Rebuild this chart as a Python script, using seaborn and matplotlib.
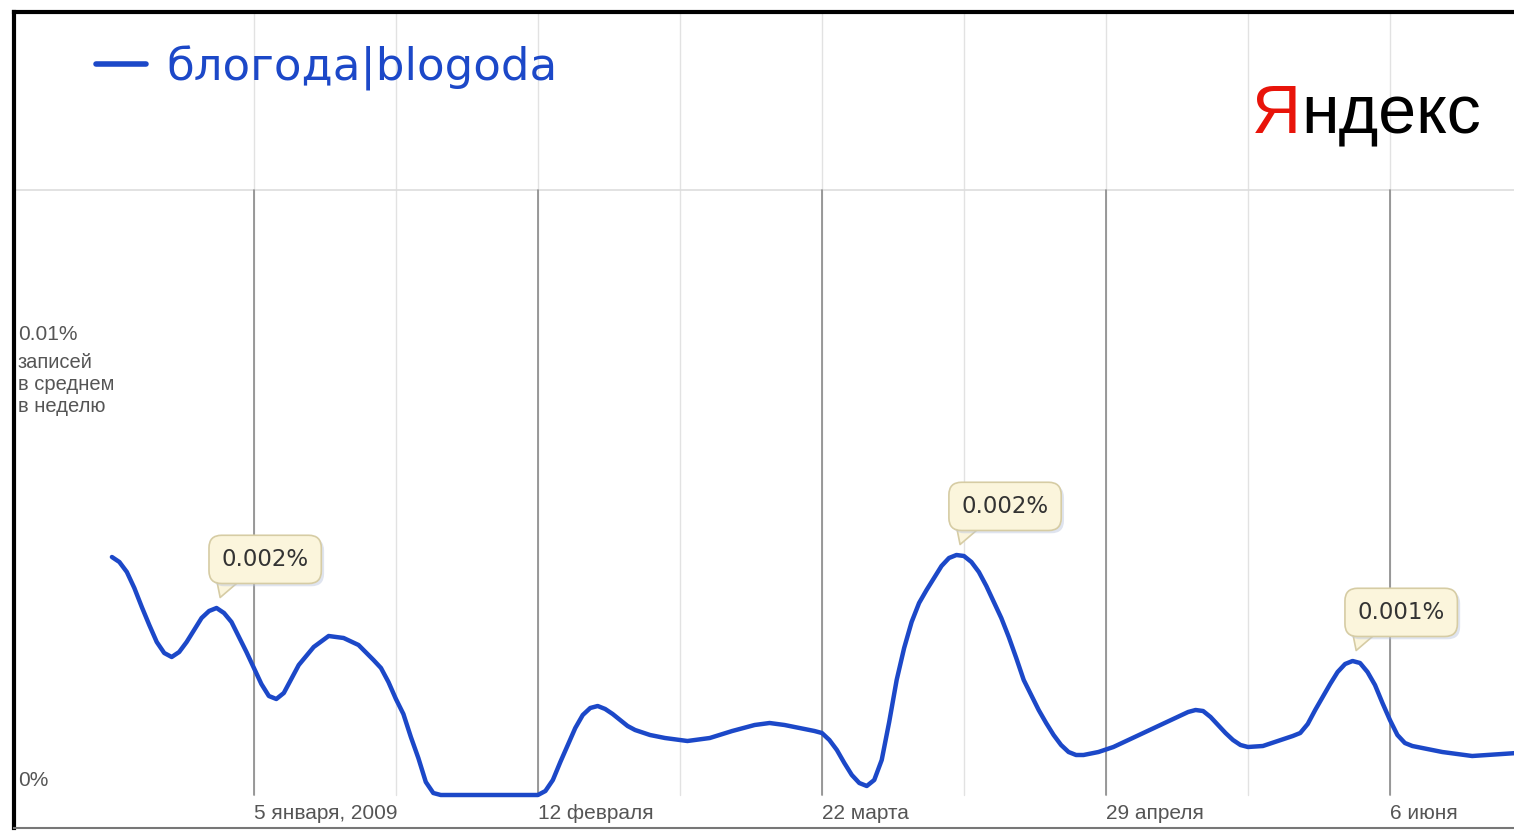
import matplotlib
matplotlib.use('Agg')
import matplotlib.pyplot as plt
import matplotlib.dates as mdates
import matplotlib.patheffects as pe
import pandas as pd
import seaborn as sns

# День отсчитывается от 5 января 2009.
start_date = '2009-01-05'
day_offsets = [-19, -18, -17, -16, -15, -14, -13, -12, -11, -10, -9, -8,
               -7, -6, -5, -4, -3, -2, -1, 0, 1, 2, 3, 4, 5, 6, 8, 10, 12,
               14, 16, 17, 18, 19, 20, 21, 22, 23, 24, 25,
               38, 39, 40, 41, 42, 43, 44, 45, 46, 47, 48, 49, 50, 51, 53,
               55, 58, 61, 64, 67, 69, 71, 73, 75, 76, 77, 78, 79, 80, 81,
               82, 83, 84, 85, 86, 87, 88, 89, 90, 91, 92, 93, 94, 95, 96,
               97, 98, 99, 100, 101, 102, 103, 104, 105, 106, 107, 108, 109,
               110, 111, 113, 115, 117, 119, 121, 123, 125, 126, 127, 128,
               129, 130, 131, 132, 133, 135, 137, 139, 140, 141, 142, 143,
               144, 145, 146, 147, 148, 149, 150, 151, 152, 153, 154, 155,
               157, 159, 161, 163, 165, 167, 169]
values = [0.00238, 0.00233, 0.00223, 0.00207, 0.00188, 0.00170, 0.00153,
          0.00142, 0.00138, 0.00143, 0.00153, 0.00165,
          0.00177, 0.00184, 0.00187, 0.00182, 0.00173, 0.00158, 0.00143,
          0.00127, 0.00111, 0.00099, 0.00096, 0.00102, 0.00116, 0.00130,
          0.00148, 0.00159, 0.00157,
          0.00150, 0.00135, 0.00127, 0.00113, 0.00096, 0.00081, 0.00058,
          0.00037, 0.00013, 0.00002, 0.0,
          0.0, 0.00004, 0.00015, 0.00033, 0.00050, 0.00067, 0.00080,
          0.00087, 0.00089, 0.00086, 0.00081, 0.00075, 0.00069, 0.00065,
          0.00060,
          0.00057, 0.00054, 0.00057, 0.00064, 0.00070, 0.00072, 0.00070,
          0.00067, 0.00064, 0.00062, 0.00055, 0.00045, 0.00032, 0.00020,
          0.00012,
          0.00009, 0.00015, 0.00035, 0.00073, 0.00115, 0.00147, 0.00173,
          0.00192, 0.00205, 0.00217, 0.00229, 0.00237, 0.00240, 0.00239,
          0.00233,
          0.00223, 0.00209, 0.00193, 0.00177, 0.00158, 0.00137, 0.00115,
          0.00100, 0.00085, 0.00072, 0.00060, 0.00050, 0.00043,
          0.00040, 0.00040, 0.00043, 0.00048, 0.00055, 0.00062, 0.00069,
          0.00076, 0.00083, 0.00085, 0.00084, 0.00078,
          0.00070, 0.00062, 0.00055, 0.00050, 0.00048, 0.00049, 0.00054,
          0.00059, 0.00062, 0.00071, 0.00085, 0.00098,
          0.00111, 0.00123, 0.00131, 0.00134, 0.00132, 0.00123, 0.00110,
          0.00092, 0.00075, 0.00060, 0.00052, 0.00049,
          0.00046, 0.00043, 0.00041, 0.00039, 0.00040, 0.00041, 0.00042]

series_name = 'блогода|blogoda'

major_dates = ['2009-01-05', '2009-02-12', '2009-03-22', '2009-04-29', '2009-06-06']
major_labels = ['5 января, 2009', '12 февраля', '22 марта', '29 апреля', '6 июня']
minor_dates = ['2009-01-24', '2009-03-03', '2009-04-10', '2009-05-18']

peak_offsets = [-5, 94, 147]
peak_labels = ['0.002%', '0.002%', '0.001%']

W, H = 1514, 831
BLUE = '#1c48c8'
GRAY_TXT = '#555555'
NARROW = ['Liberation Sans', 'DejaVu Sans']
CALL_FC, CALL_EC = '#fbf5dc', '#d6cca4'


def fx(x):
    return x / W


def fy(y):
    return 1 - y / H


base_ts = pd.Timestamp(start_date)
df = pd.DataFrame({'date': [base_ts + pd.Timedelta(days=d) for d in day_offsets],
                   'value': values})

sns.set_theme(style='white')
plt.rcParams['font.family'] = ['DejaVu Sans']

fig = plt.figure(figsize=(W / 100, H / 100), dpi=100)
ax = fig.add_axes([fx(14), 1 - 828 / H, fx(1500), 816 / H])

base = mdates.date2num(base_ts)
ax.set_xlim(base - 32.1, base + 168.6)
ax.set_ylim(-0.00033, 0.00783)

zero_frac = 33 / 816            # уровень 0% в долях высоты осей
header = (828 - 190) / 816      # где кончается шапка
major_num = mdates.date2num(pd.to_datetime(major_dates))
minor_num = mdates.date2num(pd.to_datetime(minor_dates))

# сетка
for x in list(major_num) + list(minor_num):
    ax.axvline(x, ymin=zero_frac, ymax=1, color='#e2e2e2', lw=1, zorder=0)
for x in major_num:
    ax.axvline(x, ymin=zero_frac, ymax=header, color='#8a8a8a', lw=1.2, zorder=1)
ax.axhline(0.00605, color='#dddddd', lw=1.2, zorder=0)

sns.lineplot(data=df, x='date', y='value', ax=ax, color=BLUE, linewidth=3.2,
             label=series_name, zorder=3)

# выноски у пиков: клин начинается внутри рамки, видно только жало
for d, lab in zip(peak_offsets, peak_labels):
    v = df.loc[df['date'] == base_ts + pd.Timedelta(days=d), 'value'].iloc[0]
    ann = ax.annotate(lab, xy=(base + d, v),
                      xytext=(35, 35), textcoords='offset points',
                      ha='center', va='center', fontsize=16.5, color='#333333',
                      bbox=dict(boxstyle='round,pad=0.55', fc=CALL_FC,
                                ec=CALL_EC, lw=1.2),
                      arrowprops=dict(arrowstyle='wedge,tail_width=2.0,shrink_factor=0.5',
                                      fc=CALL_FC, ec=CALL_EC, lw=1.2,
                                      patchA=None, shrinkA=0, shrinkB=8,
                                      relpos=(0.13, 0.45)),
                      zorder=5)
    ann.get_bbox_patch().set_path_effects(
        [pe.withSimplePatchShadow(offset=(2, -2), shadow_rgbFace='#b9c4dc', alpha=0.45)])

ax.set_xticks(major_num)
ax.set_xticklabels(major_labels, ha='left', family=NARROW)
ax.tick_params(axis='x', length=0, pad=-17, labelsize=15, labelcolor=GRAY_TXT)
ax.set_yticks([])
ax.set_xlabel('')
ax.set_ylabel('')

for side in ['left', 'top']:
    ax.spines[side].set_color('black')
    ax.spines[side].set_linewidth(3)
ax.spines['bottom'].set_color('#777777')
ax.spines['bottom'].set_linewidth(1.5)
ax.spines['right'].set_visible(False)

# подписи оси Y
fig.text(fx(18), fy(334), '0.01%', ha='left', va='center', fontsize=15,
         color=GRAY_TXT, family=NARROW)
fig.text(fx(18), fy(353), 'записей\nв среднем\nв неделю', ha='left', va='top',
         fontsize=14.5, color=GRAY_TXT, family=NARROW, linespacing=1.2)
fig.text(fx(18), fy(780), '0%', ha='left', va='center', fontsize=15,
         color=GRAY_TXT, family=NARROW)

leg = ax.legend(loc='center left', bbox_to_anchor=(fx(96), fy(68)),
                bbox_transform=fig.transFigure, frameon=False, fontsize=32.5,
                handlelength=1.1, handletextpad=0.45, borderpad=0, borderaxespad=0,
                labelcolor=BLUE)
for line in leg.get_lines():
    line.set_linewidth(4)

# логотип
ya = fig.text(fx(1252), fy(133), 'Я', color='#e8140a', fontsize=49,
              family=NARROW, va='baseline')
ax.annotate('ндекс', xy=(1, 0), xycoords=ya, va='bottom', ha='left',
            fontsize=49, color='black', family=NARROW, annotation_clip=False)

fig.savefig('out.png', dpi=100, facecolor='white')
